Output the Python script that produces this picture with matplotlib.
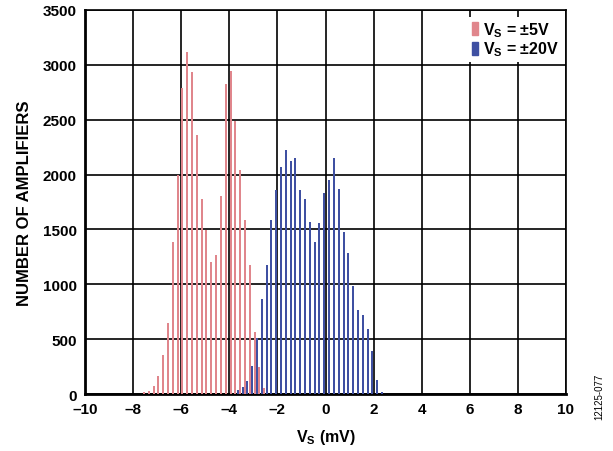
"""Offset voltage distribution histogram, Vs = ±5V vs ±20V."""
import matplotlib
matplotlib.use("Agg")
import matplotlib.pyplot as plt
import numpy as np
from matplotlib.patches import Patch

plt.rcParams["font.family"] = ["Liberation Sans", "DejaVu Sans"]
plt.rcParams["font.weight"] = "bold"
plt.rcParams["mathtext.fontset"] = "custom"
plt.rcParams["mathtext.rm"] = "Liberation Sans:bold"
plt.rcParams["mathtext.it"] = "Liberation Sans:bold"
plt.rcParams["mathtext.bf"] = "Liberation Sans:bold"

# bin centres (mV) and counts
VS5_X = [-7.55, -7.35, -7.15, -6.95, -6.75, -6.55, -6.35, -6.15, -5.95, -5.75,
         -5.55, -5.35, -5.15, -4.95, -4.75, -4.55, -4.35, -4.15, -3.95, -3.75,
         -3.55, -3.35, -3.15, -2.95, -2.75, -2.55]
VS5_N = [18, 30, 73, 160, 355, 645, 1388, 2000, 2790, 3115,
         2935, 2360, 1782, 1494, 1200, 1264, 1809, 2827, 2948, 2485,
         2040, 1590, 1175, 566, 250, 52]

VS20_X = [-3.65, -3.45, -3.25, -3.05, -2.85, -2.65, -2.45, -2.25, -2.05, -1.85,
          -1.65, -1.45, -1.25, -1.05, -0.85, -0.65, -0.45, -0.25, -0.05, 0.15,
          0.35, 0.55, 0.75, 0.95, 1.15, 1.35, 1.55, 1.75, 1.95, 2.15, 2.35]
VS20_N = [36, 61, 118, 257, 510, 870, 1175, 1590, 1860, 2070,
          2221, 2122, 2155, 1864, 1779, 1572, 1388, 1555, 1830, 1948,
          2148, 1870, 1479, 1285, 985, 766, 718, 597, 388, 127, 15]

X_TICKS = np.arange(-10, 11, 2)
Y_TICKS = np.arange(0, 3501, 500)

RED = "#e0868c"
BLUE = "#3f50a2"

fig = plt.figure(figsize=(6.13, 4.52), dpi=100)
ax = fig.add_axes([0.1387, 0.126, 0.7846, 0.8497])

# ~2 px wide bars so they snap evenly
ax.bar(VS5_X, VS5_N, width=0.083, color=RED, zorder=3)
ax.bar(VS20_X, VS20_N, width=0.083, color=BLUE, zorder=3)

ax.set_xlim(-10, 10)
ax.set_ylim(0, 3500)
ax.set_xticks(X_TICKS)
ax.set_xticklabels([f"{v:d}".replace("-", "\u2013") for v in X_TICKS])
ax.set_yticks(Y_TICKS)
ax.tick_params(length=0, labelsize=11, pad=6)
for lab in ax.get_xticklabels() + ax.get_yticklabels():
    lab.set_fontweight("bold")
ax.grid(True, color="black", linewidth=1.2, zorder=1)
ax.set_axisbelow(True)
for side in ["top", "right"]:
    ax.spines[side].set_linewidth(1.2)
for side in ["left", "bottom"]:
    ax.spines[side].set_linewidth(2.0)

ax.set_xlabel("V$_\\mathrm{S}$ (mV)", fontsize=11.5, fontweight="bold", labelpad=8)
ax.set_ylabel("NUMBER OF AMPLIFIERS", fontsize=12, fontweight="bold", labelpad=8)

handles = [Patch(color=RED), Patch(color=BLUE)]
leg = ax.legend(handles, ["V$_\\mathrm{S}$ = ±5V", "V$_\\mathrm{S}$ = ±20V"],
                loc="upper right", bbox_to_anchor=(0.998, 0.99), frameon=True,
                fancybox=False, framealpha=1, edgecolor="white",
                prop={"size": 11.5, "weight": "bold"},
                handlelength=0.35, handleheight=0.9, handletextpad=0.3,
                labelspacing=0.05, borderpad=0.2, borderaxespad=0.2)
leg.get_frame().set_linewidth(0)

fig.text(0.977, 0.071, "12125-077", rotation=90, fontsize=7,
         fontweight="normal", ha="center", va="bottom")

fig.savefig("out.png", dpi=100)
